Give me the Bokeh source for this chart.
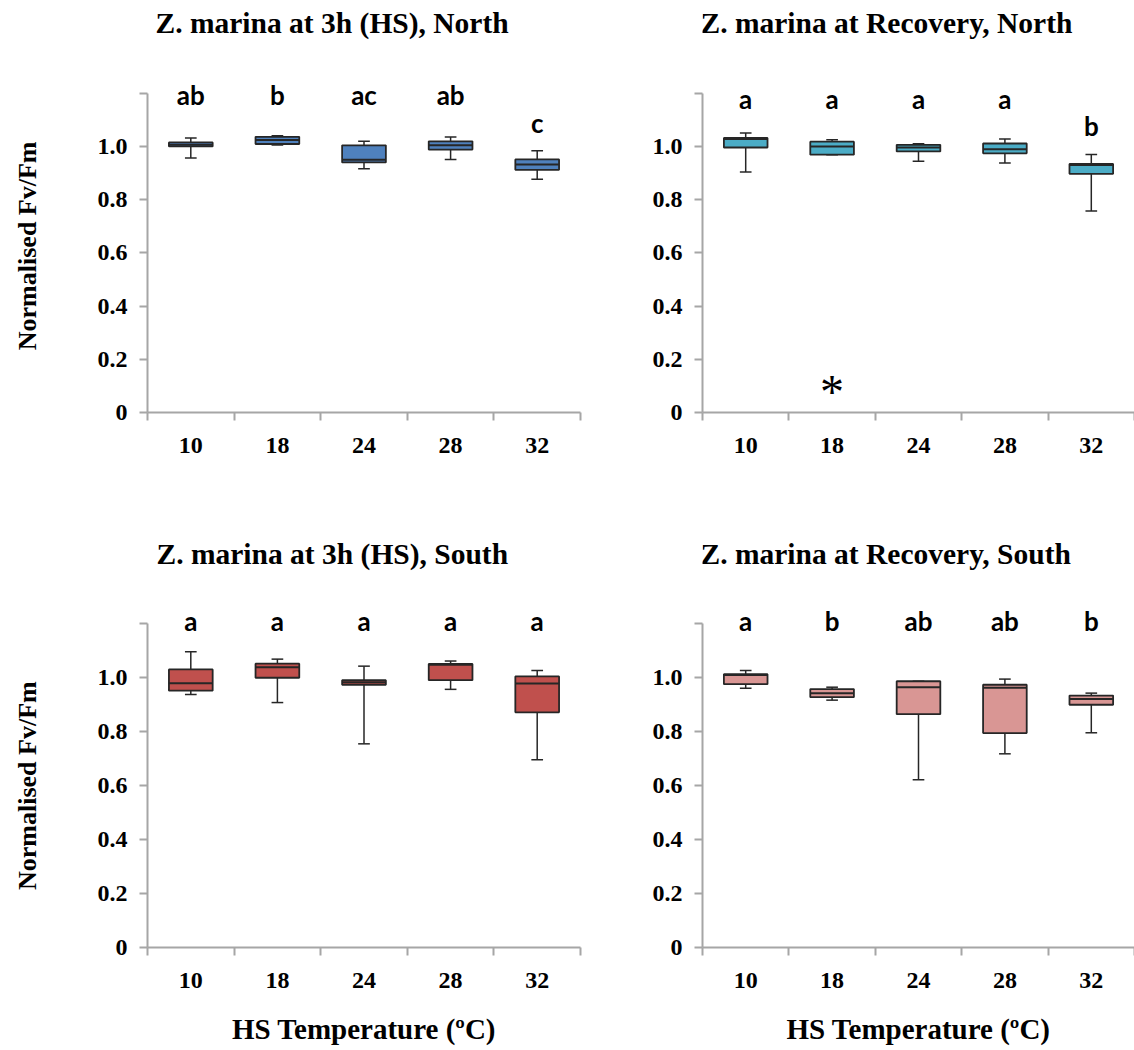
import math

from bokeh.plotting import figure
from bokeh.layouts import column, row
from bokeh.models import Range1d, FixedTicker
from bokeh.embed import file_html
from bokeh.resources import INLINE
from bokeh.core.properties import value

# HS temperatures (ºC) on the x axis
temps = ["10", "18", "24", "28", "32"]

# Z. marina, North, after 3 h of heat stress
n3h_min = [0.956, 1.005, 0.916, 0.951, 0.877]
n3h_q1 = [1.000, 1.009, 0.940, 0.988, 0.912]
n3h_med = [1.006, 1.024, 0.950, 1.004, 0.932]
n3h_q3 = [1.015, 1.036, 1.004, 1.019, 0.951]
n3h_max = [1.032, 1.040, 1.019, 1.035, 0.984]
n3h_letters = ["ab", "b", "ac", "ab", "c"]

# Z. marina, North, at recovery
nrec_min = [0.904, 0.969, 0.944, 0.938, 0.757]
nrec_q1 = [0.996, 0.969, 0.981, 0.974, 0.897]
nrec_med = [1.028, 1.000, 0.996, 0.989, 0.930]
nrec_q3 = [1.032, 1.018, 1.006, 1.011, 0.934]
nrec_max = [1.050, 1.025, 1.010, 1.028, 0.970]
nrec_letters = ["a", "a", "a", "a", "b"]
nrec_asterisk = ["18"]

# Z. marina, South, after 3 h of heat stress
s3h_min = [0.938, 0.908, 0.755, 0.957, 0.696]
s3h_q1 = [0.952, 1.000, 0.974, 0.991, 0.872]
s3h_med = [0.980, 1.039, 0.983, 1.048, 0.979]
s3h_q3 = [1.031, 1.052, 0.991, 1.051, 1.005]
s3h_max = [1.096, 1.069, 1.043, 1.062, 1.027]
s3h_letters = ["a", "a", "a", "a", "a"]

# Z. marina, South, at recovery
srec_min = [0.961, 0.917, 0.622, 0.718, 0.796]
srec_q1 = [0.976, 0.928, 0.865, 0.795, 0.900]
srec_med = [1.010, 0.943, 0.965, 0.963, 0.921]
srec_q3 = [1.013, 0.958, 0.987, 0.974, 0.934]
srec_max = [1.027, 0.965, 0.987, 0.995, 0.943]
srec_letters = ["a", "b", "ab", "ab", "b"]

y_ticks = [0, 0.2, 0.4, 0.6, 0.8, 1.0, 1.2]
y_tick_labels = ["0", "0.2", "0.4", "0.6", "0.8", "1.0", ""]

AXIS_GREY = "#a6a6a6"
SERIF = "Liberation Serif"
AXIS_TOP = 1.2
STRIP_W = 54


def y_scale(height, bottom, head_room):
    """Pixels per unit and the top of the y range, so that AXIS_TOP sits
    head_room pixels below the top of the figure."""
    frame_h = height - bottom
    px_per_unit = (frame_h - head_room) / AXIS_TOP
    return px_per_unit, frame_h / px_per_unit


def make_ytitle(height, bottom, head_room, lift=0):
    """Narrow strip carrying the rotated y-axis title, centred on the axis."""
    px_per_unit, y_max = y_scale(height, bottom, head_room)
    s = figure(width=STRIP_W, height=height,
               x_range=Range1d(0, STRIP_W), y_range=Range1d(0, y_max),
               x_axis_location=None, y_axis_location=None,
               output_backend="svg", toolbar_location=None,
               min_border_left=0, min_border_right=0,
               min_border_top=0, min_border_bottom=bottom)
    s.outline_line_color = None
    s.grid.visible = False
    s.text(x=[STRIP_W / 2], y=[AXIS_TOP / 2 + lift / px_per_unit],
           text=["Normalised Fv/Fm"], angle=math.pi / 2,
           text_font=value(SERIF), text_font_style="bold", text_font_size="26px",
           text_color="black", text_align="center", text_baseline="middle")
    return s


def make_panel(title, stats, letters, fill, *, width, height, left, right,
               bottom, head_room, title_rise, letter_rise, x_title=False,
               drop_letters=(), asterisk=(), title_dx=8):
    """One box-plot panel.  The plotting area reaches the top of the figure;
    the y axis stops at AXIS_TOP and the space above holds the heading and the
    significance letters (title_rise / letter_rise are pixels above AXIS_TOP)."""
    lo, q1, med, q3, hi = stats
    n = len(temps)
    xs = [i + 0.5 for i in range(n)]
    px_per_unit, y_max = y_scale(height, bottom, head_room)

    p = figure(width=width, height=height,
               x_range=Range1d(0, n), y_range=Range1d(0, y_max),
               output_backend="svg", toolbar_location=None,
               min_border_left=left, min_border_right=right,
               min_border_top=0, min_border_bottom=bottom)
    p.outline_line_color = None
    p.grid.visible = False
    p.background_fill_color = "white"
    p.border_fill_color = "white"

    # x axis: labels at category centres, ticks on category boundaries
    xa = p.xaxis[0]
    xa.ticker = FixedTicker(ticks=xs, minor_ticks=list(range(n + 1)))
    xa.major_label_overrides = {x: t for x, t in zip(xs, temps)}
    xa.major_tick_out = 0
    xa.major_tick_in = 0
    xa.minor_tick_out = 8
    xa.minor_tick_in = 0
    xa.minor_tick_line_color = AXIS_GREY
    xa.minor_tick_line_width = 2
    xa.axis_line_color = AXIS_GREY
    xa.axis_line_width = 2
    xa.major_label_text_font = SERIF
    xa.major_label_text_font_style = "bold"
    xa.major_label_text_font_size = "24px"
    xa.major_label_text_color = "black"
    xa.major_label_standoff = 17
    if x_title:
        xa.axis_label = "HS Temperature (ºC)"
        xa.axis_label_text_font = SERIF
        xa.axis_label_text_font_style = "bold"
        xa.axis_label_text_font_size = "29px"
        xa.axis_label_text_color = "black"
        xa.axis_label_standoff = 22

    ya = p.yaxis[0]
    ya.bounds = (0, AXIS_TOP)
    ya.ticker = FixedTicker(ticks=y_ticks, minor_ticks=[])
    ya.major_label_overrides = dict(zip(y_ticks, y_tick_labels))
    ya.major_tick_out = 8
    ya.major_tick_in = 0
    ya.major_tick_line_color = AXIS_GREY
    ya.major_tick_line_width = 2
    ya.axis_line_color = AXIS_GREY
    ya.axis_line_width = 2
    ya.major_label_text_font = SERIF
    ya.major_label_text_font_style = "bold"
    ya.major_label_text_font_size = "24px"
    ya.major_label_text_color = "black"
    ya.major_label_standoff = 12

    # panel heading
    p.text(x=[0], y=[AXIS_TOP + title_rise / px_per_unit], text=[title],
           x_offset=title_dx, text_font=value(SERIF), text_font_style="bold",
           text_font_size="29.5px", text_color="black",
           text_align="left", text_baseline="middle")

    box_w = 0.505
    cap_w = 0.135
    ink = "#262626"

    # whiskers and caps
    p.segment(x0=xs, y0=q3, x1=xs, y1=hi, line_color=ink, line_width=1.5)
    p.segment(x0=xs, y0=q1, x1=xs, y1=lo, line_color=ink, line_width=1.5)
    p.segment(x0=[x - cap_w / 2 for x in xs], y0=hi,
              x1=[x + cap_w / 2 for x in xs], y1=hi, line_color=ink, line_width=1.5)
    p.segment(x0=[x - cap_w / 2 for x in xs], y0=lo,
              x1=[x + cap_w / 2 for x in xs], y1=lo, line_color=ink, line_width=1.5)

    # boxes and medians
    p.vbar(x=xs, width=box_w, bottom=q1, top=q3, fill_color=fill,
           line_color=ink, line_width=1.8)
    p.segment(x0=[x - box_w / 2 for x in xs], y0=med,
              x1=[x + box_w / 2 for x in xs], y1=med, line_color=ink, line_width=2)

    # significance letters: a common row, or just above a low whisker
    row_y = AXIS_TOP + letter_rise / px_per_unit
    ly = [h + 28 / px_per_unit if t in drop_letters else row_y
          for t, h in zip(temps, hi)]
    p.text(x=xs, y=ly, text=letters, text_font=value("Lato"),
           text_font_style="bold", text_font_size="26px", text_color="black",
           text_align="center", text_baseline="alphabetic")

    if asterisk:
        ax = [xs[temps.index(t)] for t in asterisk]
        p.text(x=ax, y=[0.08] * len(ax), text=["*"] * len(ax),
               text_font=value(SERIF), text_font_size="48px", text_color="black",
               text_align="center", text_baseline="alphabetic")
    return p


top_h, bot_h = 500, 550
top_geom = dict(height=top_h, bottom=88, head_room=92.7)
bot_geom = dict(height=bot_h, bottom=103, head_room=123.3)

t1 = make_ytitle(**top_geom, lift=7)
p1 = make_panel("Z. marina at 3h (HS), North",
                (n3h_min, n3h_q1, n3h_med, n3h_q3, n3h_max), n3h_letters, "#4f81bd",
                width=590 - STRIP_W, left=147 - STRIP_W, right=10, **top_geom,
                title_rise=70.7, letter_rise=-2, drop_letters=("32",))
p2 = make_panel("Z. marina at Recovery, North",
                (nrec_min, nrec_q1, nrec_med, nrec_q3, nrec_max), nrec_letters, "#4bacc6",
                width=544, left=112, right=0, **top_geom,
                title_rise=70.7, letter_rise=-6, drop_letters=("32",),
                asterisk=nrec_asterisk, title_dx=-2)
t3 = make_ytitle(**bot_geom)
p3 = make_panel("Z. marina at 3h (HS), South",
                (s3h_min, s3h_q1, s3h_med, s3h_q3, s3h_max), s3h_letters, "#c0504d",
                width=590 - STRIP_W, left=147 - STRIP_W, right=10, **bot_geom,
                title_rise=70.3, letter_rise=3, x_title=True, title_dx=9)
p4 = make_panel("Z. marina at Recovery, South",
                (srec_min, srec_q1, srec_med, srec_q3, srec_max), srec_letters, "#d99694",
                width=544, left=112, right=0, **bot_geom,
                title_rise=70.3, letter_rise=3, x_title=True, title_dx=-2)

layout = column(row(t1, p1, p2), row(t3, p3, p4))
open("out.html", "w").write(file_html(layout, INLINE))
